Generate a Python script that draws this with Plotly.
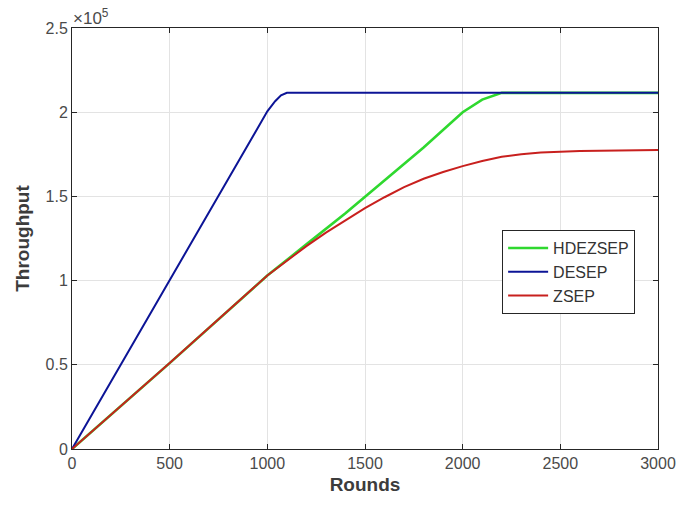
import plotly.graph_objects as go

# Throughput per round for the three protocols
rounds_desep = [0, 500, 1000, 1040, 1070, 1100, 3000]
desep = [0, 100000, 200500, 206500, 210000, 211500, 211500]

rounds_hdezsep = [0, 500, 1000, 1100, 1200, 1400, 1600, 1800, 2000, 2100, 2200, 3000]
hdezsep = [0, 51000, 103000, 112000, 121500, 140000, 159500, 179000, 200000, 207500, 211500, 211500]

rounds_zsep = [0, 500, 1000, 1100, 1200, 1300, 1400, 1500, 1600, 1700, 1800, 1900,
               2000, 2100, 2200, 2300, 2400, 2500, 2600, 2800, 3000]
zsep = [0, 51000, 103000, 112000, 120500, 128500, 136000, 143000, 149500, 155500, 160500, 164500,
        168000, 171000, 173500, 175000, 176000, 176500, 177000, 177300, 177500]

x_ticks = [0, 500, 1000, 1500, 2000, 2500, 3000]
y_ticks = [0, 50000, 100000, 150000, 200000, 250000]
y_tick_text = ["0", "0.5", "1", "1.5", "2", "2.5"]

FONT = "Arial, Liberation Sans, sans-serif"

fig = go.Figure()
fig.add_trace(go.Scatter(x=rounds_hdezsep, y=hdezsep, mode="lines", name="HDEZSEP",
                         line=dict(color="#2fd82f", width=2.6)))
fig.add_trace(go.Scatter(x=rounds_desep, y=desep, mode="lines", name="DESEP",
                         line=dict(color="#0c1496", width=2)))
fig.add_trace(go.Scatter(x=rounds_zsep, y=zsep, mode="lines", name="ZSEP",
                         line=dict(color="#c8201e", width=2)))

axis_common = dict(showline=True, linecolor="#262626", linewidth=1, mirror="ticks",
                   ticks="inside", ticklen=5, tickcolor="#262626", automargin=False,
                   showgrid=True, gridcolor="#e3e3e3", gridwidth=1, zeroline=False,
                   tickfont=dict(family=FONT, size=16, color="#4a4a4a"))

fig.update_xaxes(range=[0, 3000], tickvals=x_ticks,
                 title=dict(text="<b>Rounds</b>", standoff=6,
                            font=dict(family=FONT, size=19, color="#3c3c3c")),
                 **axis_common)
fig.update_yaxes(range=[0, 250000], tickvals=y_ticks, ticktext=y_tick_text,
                 title=dict(text="<b>Throughput</b>", standoff=10,
                            font=dict(family=FONT, size=19, color="#3c3c3c")),
                 **axis_common)

fig.add_annotation(xref="paper", yref="paper", x=0, y=1, xanchor="left", yanchor="bottom",
                   text="×10<sup>5</sup>", showarrow=False, yshift=-2, xshift=-1,
                   font=dict(family=FONT, size=17, color="#4a4a4a"))

fig.update_layout(
    width=678, height=506,
    margin=dict(l=72, r=20, t=28, b=57),
    plot_bgcolor="white", paper_bgcolor="white",
    legend=dict(x=0.734, y=0.52, xanchor="left", yanchor="top",
                bgcolor="white", bordercolor="#262626", borderwidth=1,
                font=dict(family=FONT, size=16, color="#333333"),
                tracegroupgap=0, itemwidth=40),
    showlegend=True,
)

fig.write_html("out.html")
